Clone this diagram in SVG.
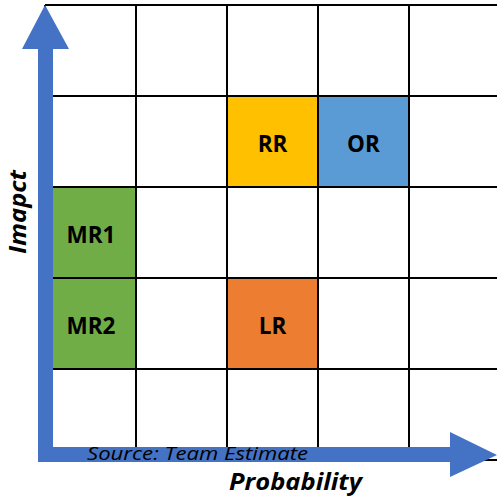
<svg xmlns="http://www.w3.org/2000/svg" width="497" height="497" viewBox="0 0 497 497">
<style>
.cell{stroke:#000;stroke-width:2}
.grid{stroke:#000;stroke-width:2;fill:none}
.lbl{font-family:"Open Sans","Liberation Sans",sans-serif;font-weight:bold;font-size:22.5px;fill:#000;text-anchor:middle}
.axis{font-family:"Open Sans","Liberation Sans",sans-serif;font-weight:bold;font-style:italic;font-size:23px;fill:#000}
.src{font-family:"Open Sans","Liberation Sans",sans-serif;font-style:italic;font-size:18px;fill:#000}
</style>
<rect width="497" height="497" fill="#fff"/>
<g id="grid" class="grid">
<path d="M45 5H500M45 96H500M45 187H500M45 278H500M45 369H500M45 460H500"/>
<path d="M45 5V460M136 5V460M227 5V460M318 5V460M409 5V460"/>
</g>
<g id="MR1"><rect class="cell" x="45" y="187" width="91" height="91" fill="#70AD47"/><text class="lbl" x="91" y="243">MR1</text></g>
<g id="MR2"><rect class="cell" x="45" y="278" width="91" height="91" fill="#70AD47"/><text class="lbl" x="91" y="334">MR2</text></g>
<g id="RR"><rect class="cell" x="227" y="96" width="91" height="91" fill="#FFC000"/><text class="lbl" x="272.5" y="152">RR</text></g>
<g id="OR"><rect class="cell" x="318" y="96" width="91" height="91" fill="#5B9BD5"/><text class="lbl" x="363.5" y="152">OR</text></g>
<g id="LR"><rect class="cell" x="227" y="278" width="91" height="91" fill="#ED7D31"/><text class="lbl" x="272.5" y="334">LR</text></g>
<g id="connectors" fill="#4472C4">
<polygon points="45,5 69,49 53,49 53,447 450,447 450,432 497,455 450,477 450,462 38,462 38,49 22,49"/>
</g>
<text class="src" x="87" y="460" textLength="221" lengthAdjust="spacingAndGlyphs">Source: Team Estimate</text>
<text class="axis" x="229" y="490" textLength="133" lengthAdjust="spacingAndGlyphs">Probability</text>
<text class="axis" transform="translate(26 254) rotate(-90)" x="0" y="0" textLength="84" lengthAdjust="spacingAndGlyphs">Imapct</text>
</svg>
